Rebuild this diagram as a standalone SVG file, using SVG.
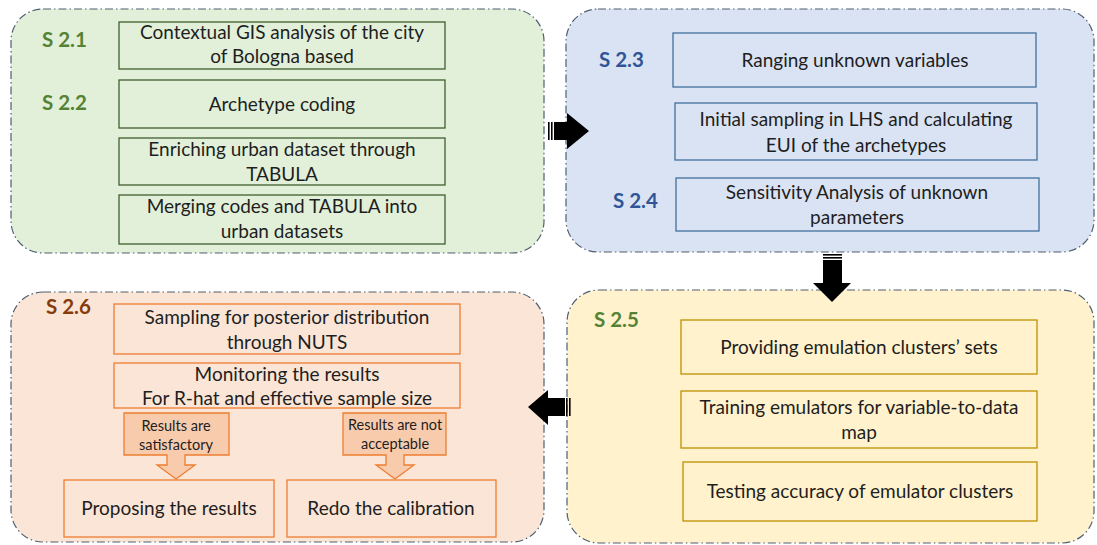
<svg xmlns="http://www.w3.org/2000/svg" width="1097" height="545" viewBox="0 0 1097 545">
  <style>
    .panel { stroke: #4f5f72; stroke-width: 1.2; stroke-dasharray: 8 3 1.5 3; }
    .t { font-family: Lato, "Open Sans", sans-serif; font-size: 19px; fill: #1e1e1e; text-anchor: middle; }
    .ts { font-family: Lato, "Open Sans", sans-serif; font-size: 14.5px; fill: #1e1e1e; text-anchor: middle; }
    .lbl { font-family: Lato, "Open Sans", sans-serif; font-size: 20.5px; font-weight: bold; }
    .g-box { fill: #e2f0d9; stroke: #3f5f2f; stroke-width: 1.3; }
    .b-box { fill: #dae3f3; stroke: #41719c; stroke-width: 1.3; }
    .y-box { fill: #fff2cc; stroke: #bf9000; stroke-width: 1.3; }
    .o-box { fill: #fbe5d6; stroke: #ed7d31; stroke-width: 1.3; }
    .callout { fill: #f8cbad; stroke: #ed7d31; stroke-width: 1.3; }
  </style>

  <!-- Stage panels -->
  <g id="panel-s21-s22">
    <rect class="panel" x="11" y="9" width="533" height="244" rx="32" fill="#e2f0d9"/>
    <text class="lbl" x="42" y="47" fill="#548235">S 2.1</text>
    <text class="lbl" x="42" y="110" fill="#548235">S 2.2</text>
    <g id="gis-analysis">
      <rect class="g-box" x="119" y="22" width="326" height="47"/>
      <text class="t" x="282" y="39">Contextual GIS analysis of the city</text>
      <text class="t" x="282" y="63">of Bologna based</text>
    </g>
    <g id="archetype-coding">
      <rect class="g-box" x="119" y="80" width="326" height="48"/>
      <text class="t" x="282" y="111">Archetype coding</text>
    </g>
    <g id="enriching-dataset">
      <rect class="g-box" x="119" y="138" width="326" height="47"/>
      <text class="t" x="282" y="156">Enriching urban dataset through</text>
      <text class="t" x="282" y="181">TABULA</text>
    </g>
    <g id="merging-codes">
      <rect class="g-box" x="119" y="195" width="326" height="49"/>
      <text class="t" x="282" y="213">Merging codes and TABULA into</text>
      <text class="t" x="282" y="238">urban datasets</text>
    </g>
  </g>

  <g id="panel-s23-s24">
    <rect class="panel" x="566" y="9" width="528" height="243" rx="32" fill="#dae3f3"/>
    <text class="lbl" x="599" y="67" fill="#2f5597">S 2.3</text>
    <text class="lbl" x="613" y="208" fill="#2f5597">S 2.4</text>
    <g id="ranging-variables">
      <rect class="b-box" x="673" y="33" width="363" height="54"/>
      <text class="t" x="855" y="67">Ranging unknown variables</text>
    </g>
    <g id="initial-sampling">
      <rect class="b-box" x="675" y="103" width="362" height="57"/>
      <text class="t" x="856" y="126">Initial sampling in LHS and calculating</text>
      <text class="t" x="856" y="152">EUI of the archetypes</text>
    </g>
    <g id="sensitivity-analysis">
      <rect class="b-box" x="676" y="178" width="363" height="53"/>
      <text class="t" x="857" y="199">Sensitivity Analysis of unknown</text>
      <text class="t" x="857" y="224">parameters</text>
    </g>
  </g>

  <g id="panel-s25">
    <rect class="panel" x="567" y="290" width="527" height="253" rx="32" fill="#fff2cc"/>
    <text class="lbl" x="594" y="327" fill="#548235">S 2.5</text>
    <g id="emulation-clusters">
      <rect class="y-box" x="681" y="320" width="356" height="54"/>
      <text class="t" x="859" y="354">Providing emulation clusters’ sets</text>
    </g>
    <g id="training-emulators">
      <rect class="y-box" x="681" y="391" width="356" height="57"/>
      <text class="t" x="859" y="414">Training emulators for variable-to-data</text>
      <text class="t" x="859" y="439">map</text>
    </g>
    <g id="testing-accuracy">
      <rect class="y-box" x="683" y="462" width="354" height="59"/>
      <text class="t" x="860" y="498">Testing accuracy of emulator clusters</text>
    </g>
  </g>

  <g id="panel-s26">
    <rect class="panel" x="11" y="292" width="533" height="250" rx="32" fill="#fbe5d6"/>
    <text class="lbl" x="46" y="314" fill="#843c0c">S 2.6</text>
    <g id="posterior-sampling">
      <rect class="o-box" x="114" y="304" width="346" height="50"/>
      <text class="t" x="287" y="324">Sampling for posterior distribution</text>
      <text class="t" x="287" y="349">through NUTS</text>
    </g>
    <g id="monitoring-results">
      <rect class="o-box" x="114" y="363" width="346" height="45"/>
      <text class="t" x="287" y="381">Monitoring the results</text>
      <text class="t" x="287" y="405">For R-hat and effective sample size</text>
    </g>
    <g id="satisfactory">
      <path class="callout" d="M124,413 H229 V455 H185 V465 H195 L176,479 L157,465 H167 V455 H124 Z"/>
      <text class="ts" x="176" y="431">Results are</text>
      <text class="ts" x="176" y="450">satisfactory</text>
    </g>
    <g id="not-acceptable">
      <path class="callout" d="M343,413 H446 V455 H404 V465 H414 L395,479 L376,465 H386 V455 H343 Z"/>
      <text class="ts" x="395" y="430">Results are not</text>
      <text class="ts" x="395" y="449">acceptable</text>
    </g>
    <g id="proposing-results">
      <rect class="o-box" x="64" y="480" width="210" height="57"/>
      <text class="t" x="169" y="515">Proposing the results</text>
    </g>
    <g id="redo-calibration">
      <rect class="o-box" x="287" y="480" width="209" height="57"/>
      <text class="t" x="391" y="515">Redo the calibration</text>
    </g>
  </g>

  <!-- Block arrows between stages -->
  <g id="connectors" fill="#000">
    <g id="arrow-right">
      <rect x="548" y="122" width="1.6" height="18"/>
      <rect x="551" y="122" width="1.6" height="18"/>
      <polygon points="554,122 567,122 567,113 589,131 567,149 567,140 554,140"/>
    </g>
    <g id="arrow-down">
      <rect x="823" y="254" width="19" height="1.6"/>
      <rect x="823" y="257" width="19" height="1.6"/>
      <polygon points="823,260 842,260 842,283 851,283 832,302 813,283 823,283"/>
    </g>
    <g id="arrow-left">
      <rect x="569" y="398" width="1.6" height="18"/>
      <rect x="566" y="398" width="1.6" height="18"/>
      <polygon points="565,398 548,398 548,390 528,407 548,425 548,416 565,416"/>
    </g>
  </g>
</svg>
